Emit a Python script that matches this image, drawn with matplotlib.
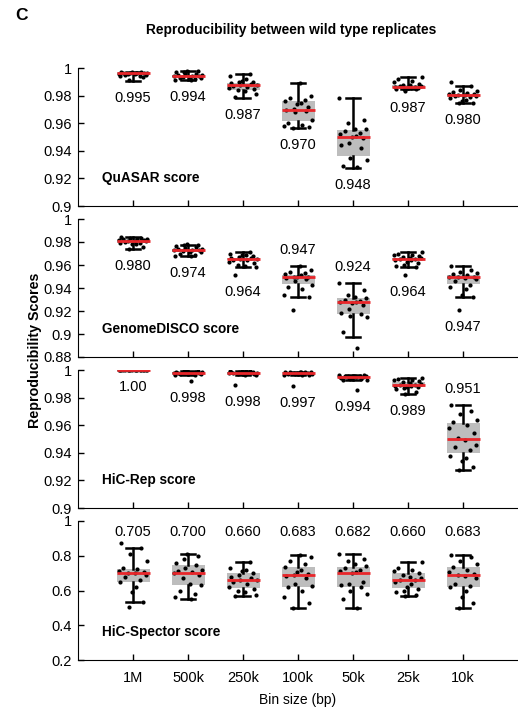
import numpy as np
import matplotlib
matplotlib.use("Agg")
import matplotlib.pyplot as plt

plt.rcParams['font.family'] = ['Liberation Sans', 'DejaVu Sans']

# ---- data ----
bins = ['1M', '500k', '250k', '100k', '50k', '25k', '10k']

# QuASAR
quasar_pts = [
    [0.9970, 0.9968, 0.9965, 0.9966, 0.9963, 0.9962, 0.9960, 0.9962, 0.9958, 0.9955, 0.9952, 0.9950, 0.9945, 0.9940, 0.9965, 0.9970, 0.9935, 0.9910],
    [0.9978, 0.9975, 0.9972, 0.9968, 0.9960, 0.9955, 0.9950, 0.9948, 0.9945, 0.9942, 0.9940, 0.9938, 0.9935, 0.9930, 0.9925, 0.9920, 0.9915, 0.9912],
    [0.9958, 0.9940, 0.9920, 0.9905, 0.9900, 0.9895, 0.9890, 0.9885, 0.9880, 0.9875, 0.9872, 0.9865, 0.9855, 0.9845, 0.9840, 0.9830, 0.9815, 0.9790],
    [0.9890, 0.9800, 0.9780, 0.9770, 0.9760, 0.9750, 0.9740, 0.9720, 0.9700, 0.9695, 0.9690, 0.9680, 0.9620, 0.9600, 0.9590, 0.9580, 0.9570, 0.9565],
    [0.9780, 0.9625, 0.9600, 0.9560, 0.9555, 0.9545, 0.9530, 0.9520, 0.9505, 0.9500, 0.9490, 0.9460, 0.9440, 0.9420, 0.9350, 0.9330, 0.9290, 0.9280],
    [0.9932, 0.9920, 0.9905, 0.9895, 0.9885, 0.9880, 0.9875, 0.9870, 0.9866, 0.9864, 0.9860, 0.9858, 0.9855, 0.9852, 0.9850, 0.9848, 0.9845, 0.9835],
    [0.9900, 0.9870, 0.9840, 0.9830, 0.9825, 0.9820, 0.9815, 0.9810, 0.9806, 0.9802, 0.9800, 0.9795, 0.9790, 0.9780, 0.9770, 0.9760, 0.9750, 0.9745],
]
quasar_med = [0.9962, 0.9942, 0.9875, 0.9696, 0.9502, 0.9865, 0.9804]
quasar_q1 = [0.9955, 0.9935, 0.9841, 0.9616, 0.9365, 0.9855, 0.9790]
quasar_q3 = [0.9968, 0.9950, 0.9894, 0.9758, 0.9550, 0.9880, 0.9815]
quasar_lo = [0.9908, 0.9912, 0.9780, 0.9563, 0.9278, 0.9845, 0.9744]
quasar_hi = [0.9970, 0.9978, 0.9954, 0.9890, 0.9780, 0.9932, 0.9870]
quasar_txt = ['0.995', '0.994', '0.987', '0.970', '0.948', '0.987', '0.980']

# GenomeDISCO
disco_pts = [
    [0.9840, 0.9838, 0.9835, 0.9830, 0.9828, 0.9825, 0.9820, 0.9815, 0.9812, 0.9810, 0.9805, 0.9800, 0.9795, 0.9790, 0.9785, 0.9780, 0.9760, 0.9740],
    [0.9780, 0.9775, 0.9770, 0.9765, 0.9760, 0.9745, 0.9740, 0.9735, 0.9734, 0.9732, 0.9730, 0.9720, 0.9715, 0.9710, 0.9700, 0.9690, 0.9680, 0.9675],
    [0.9710, 0.9700, 0.9690, 0.9685, 0.9680, 0.9670, 0.9665, 0.9660, 0.9655, 0.9650, 0.9645, 0.9640, 0.9630, 0.9620, 0.9600, 0.9590, 0.9580, 0.9515],
    [0.9590, 0.9560, 0.9540, 0.9530, 0.9520, 0.9510, 0.9500, 0.9495, 0.9492, 0.9490, 0.9480, 0.9460, 0.9430, 0.9410, 0.9390, 0.9340, 0.9320, 0.9205],
    [0.9446, 0.9380, 0.9340, 0.9320, 0.9310, 0.9300, 0.9290, 0.9280, 0.9276, 0.9270, 0.9250, 0.9220, 0.9180, 0.9170, 0.9160, 0.9150, 0.9020, 0.8876],
    [0.9710, 0.9700, 0.9690, 0.9685, 0.9680, 0.9670, 0.9665, 0.9660, 0.9655, 0.9650, 0.9645, 0.9640, 0.9630, 0.9620, 0.9600, 0.9590, 0.9580, 0.9515],
    [0.9590, 0.9560, 0.9540, 0.9530, 0.9520, 0.9510, 0.9500, 0.9495, 0.9492, 0.9490, 0.9480, 0.9460, 0.9430, 0.9410, 0.9390, 0.9340, 0.9320, 0.9205],
]
disco_med = [0.9811, 0.9733, 0.9652, 0.9493, 0.9276, 0.9652, 0.9493]
disco_q1 = [0.9790, 0.9710, 0.9640, 0.9432, 0.9177, 0.9640, 0.9432]
disco_q3 = [0.9825, 0.9740, 0.9665, 0.9513, 0.9316, 0.9665, 0.9513]
disco_lo = [0.9739, 0.9680, 0.9580, 0.9319, 0.8977, 0.9580, 0.9319]
disco_hi = [0.9840, 0.9770, 0.9710, 0.9591, 0.9446, 0.9710, 0.9591]
disco_txt = ['0.980', '0.974', '0.964', '0.947', '0.924', '0.964', '0.947']
disco_side = ['below', 'below', 'below', 'above', 'above', 'below', 'below']

# HiC-Rep
hicrep_pts = [
    [1.0000, 1.0000, 0.9999, 1.0000, 0.9999, 1.0000, 0.9998, 1.0000, 0.9999, 1.0000, 0.9999, 1.0000, 0.9998, 1.0000, 0.9999, 1.0000, 0.9999, 0.9998],
    [0.9995, 0.9993, 0.9990, 0.9988, 0.9986, 0.9985, 0.9983, 0.9980, 0.9979, 0.9978, 0.9977, 0.9976, 0.9975, 0.9972, 0.9968, 0.9965, 0.9962, 0.9918],
    [0.9996, 0.9994, 0.9992, 0.9990, 0.9988, 0.9986, 0.9984, 0.9981, 0.9979, 0.9978, 0.9977, 0.9976, 0.9975, 0.9972, 0.9970, 0.9966, 0.9963, 0.9894],
    [0.9988, 0.9986, 0.9985, 0.9984, 0.9983, 0.9982, 0.9980, 0.9979, 0.9978, 0.9977, 0.9975, 0.9972, 0.9970, 0.9968, 0.9966, 0.9964, 0.9962, 0.9882],
    [0.9967, 0.9964, 0.9960, 0.9958, 0.9956, 0.9955, 0.9953, 0.9951, 0.9950, 0.9948, 0.9946, 0.9943, 0.9940, 0.9938, 0.9934, 0.9930, 0.9925, 0.9857],
    [0.9942, 0.9935, 0.9930, 0.9925, 0.9918, 0.9912, 0.9905, 0.9898, 0.9892, 0.9888, 0.9885, 0.9882, 0.9878, 0.9875, 0.9870, 0.9860, 0.9840, 0.9824],
    [0.9744, 0.9700, 0.9680, 0.9640, 0.9620, 0.9600, 0.9580, 0.9540, 0.9510, 0.9490, 0.9460, 0.9440, 0.9420, 0.9380, 0.9360, 0.9340, 0.9300, 0.9273],
]
hicrep_med = [0.9999, 0.9978, 0.9978, 0.9978, 0.9949, 0.9889, 0.9498]
hicrep_q1 = [0.9997, 0.9975, 0.9975, 0.9970, 0.9940, 0.9877, 0.9401]
hicrep_q3 = [1.0000, 0.9985, 0.9986, 0.9982, 0.9955, 0.9913, 0.9616]
hicrep_lo = [0.9997, 0.9962, 0.9963, 0.9962, 0.9925, 0.9824, 0.9273]
hicrep_hi = [1.0000, 0.9995, 0.9996, 0.9988, 0.9967, 0.9942, 0.9744]
hicrep_txt = ['1.00', '0.998', '0.998', '0.997', '0.994', '0.989', '0.951']
hicrep_side = ['below'] * 6 + ['above']

# HiC-Spector
spector_pts = [
    [0.8716, 0.8430, 0.8100, 0.7700, 0.7300, 0.7250, 0.7150, 0.7050, 0.7000, 0.6980, 0.6900, 0.6800, 0.6600, 0.6500, 0.6200, 0.5900, 0.5356, 0.5030],
    [0.8083, 0.8000, 0.7800, 0.7600, 0.7480, 0.7300, 0.7200, 0.7100, 0.7050, 0.7000, 0.6900, 0.6700, 0.6400, 0.6300, 0.6000, 0.5800, 0.5600, 0.5510],
    [0.7660, 0.7300, 0.7200, 0.7100, 0.7000, 0.6900, 0.6800, 0.6700, 0.6620, 0.6590, 0.6500, 0.6400, 0.6200, 0.6100, 0.6000, 0.5900, 0.5750, 0.5684],
    [0.8043, 0.7900, 0.7700, 0.7500, 0.7350, 0.7200, 0.7050, 0.6950, 0.6880, 0.6860, 0.6700, 0.6400, 0.6250, 0.6200, 0.6000, 0.5600, 0.5300, 0.5010],
    [0.8100, 0.7800, 0.7700, 0.7500, 0.7400, 0.7300, 0.7200, 0.7100, 0.7050, 0.7000, 0.6500, 0.6400, 0.6300, 0.6200, 0.6000, 0.5800, 0.5500, 0.5000],
    [0.7660, 0.7300, 0.7200, 0.7100, 0.7000, 0.6900, 0.6800, 0.6700, 0.6620, 0.6590, 0.6500, 0.6400, 0.6200, 0.6100, 0.6000, 0.5900, 0.5750, 0.5684],
    [0.8043, 0.7900, 0.7700, 0.7500, 0.7350, 0.7200, 0.7050, 0.6950, 0.6880, 0.6860, 0.6700, 0.6400, 0.6250, 0.6200, 0.6000, 0.5600, 0.5300, 0.5010],
]
spector_med = [0.6990, 0.7027, 0.6604, 0.6873, 0.7027, 0.6604, 0.6873]
spector_q1 = [0.6507, 0.6317, 0.6127, 0.6220, 0.6184, 0.6127, 0.6220]
spector_q3 = [0.7255, 0.7485, 0.7025, 0.7335, 0.7370, 0.7025, 0.7335]
spector_lo = [0.5356, 0.5510, 0.5684, 0.5010, 0.5000, 0.5684, 0.5010]
spector_hi = [0.8430, 0.8083, 0.7660, 0.8043, 0.8100, 0.7660, 0.8043]
spector_txt = ['0.705', '0.700', '0.660', '0.683', '0.682', '0.660', '0.683']

# fixed horizontal jitter for the dots
jitter = np.array([-0.22, 0.15, -0.05, 0.25, -0.18, 0.08, -0.26, 0.20, -0.10,
                   0.03, 0.23, -0.14, 0.12, -0.24, 0.06, -0.02, 0.18, -0.08])

GRAY = '#bdbdbd'
RED = '#e8262a'
FS = 10.5

W, H = 518, 713
fig = plt.figure(figsize=(W / 100, H / 100), dpi=100)


def make_axes(top_px, bot_px):
    return fig.add_axes([78 / W, (H - bot_px) / H, 440 / W, (bot_px - top_px) / H])


def draw_panel(ax, pts, med, q1, q3, lo, hi, txt, side, ylim, yticks, name):
    x = np.arange(1, len(bins) + 1)
    stats = []
    for i in range(len(bins)):
        stats.append(dict(med=med[i], q1=q1[i], q3=q3[i], whislo=lo[i], whishi=hi[i], fliers=[]))
    ax.bxp(stats, positions=x, widths=0.6, patch_artist=True, showfliers=False,
           capwidths=0.25,
           boxprops=dict(facecolor=GRAY, edgecolor='none', linewidth=0),
           whiskerprops=dict(color='k', linewidth=1.8, zorder=3),
           capprops=dict(color='k', linewidth=1.8, zorder=3),
           medianprops=dict(color=RED, linewidth=2, zorder=5))
    for i in range(len(bins)):
        vals = np.array(pts[i])
        off = np.roll(jitter, i * 3)[:len(vals)]
        ax.plot(x[i] + off, vals, 'o', color='k', ms=3, mec='none', zorder=4)
        if side is None:
            ax.text(x[i], 0.92, txt[i], transform=ax.get_xaxis_transform(),
                    ha='center', va='center', fontsize=FS)
        elif side[i] == 'above':
            ytop = max(hi[i], vals.max())
            ax.annotate(txt[i], (x[i], ytop), xytext=(0, 16), textcoords='offset pixels',
                        ha='center', va='center', fontsize=FS)
        else:
            ybot = min(lo[i], vals.min())
            ax.annotate(txt[i], (x[i], ybot), xytext=(0, -17), textcoords='offset pixels',
                        ha='center', va='center', fontsize=FS)
    ax.set_xlim(0, 8)
    ax.set_ylim(*ylim)
    ax.set_yticks(yticks)
    ax.set_yticklabels(['%g' % round(t, 2) for t in yticks])
    ax.set_xticks(x)
    ax.set_xticklabels([])
    ax.spines['top'].set_visible(False)
    ax.spines['right'].set_visible(False)
    ax.tick_params(direction='in', length=4, width=1, labelsize=FS, pad=4.5)
    ax.text(0.055, 0.2, name, transform=ax.transAxes, fontsize=9.8, fontweight='bold',
            ha='left', va='center')


ax1 = make_axes(68, 206)
draw_panel(ax1, quasar_pts, quasar_med, quasar_q1, quasar_q3, quasar_lo, quasar_hi,
           quasar_txt, ['below'] * 7, (0.9, 1.0), np.arange(0.9, 1.001, 0.02), 'QuASAR score')

ax2 = make_axes(219, 357)
draw_panel(ax2, disco_pts, disco_med, disco_q1, disco_q3, disco_lo, disco_hi,
           disco_txt, disco_side, (0.88, 1.0), np.arange(0.88, 1.001, 0.02), 'GenomeDISCO score')

ax3 = make_axes(370, 508)
draw_panel(ax3, hicrep_pts, hicrep_med, hicrep_q1, hicrep_q3, hicrep_lo, hicrep_hi,
           hicrep_txt, hicrep_side, (0.9, 1.0), np.arange(0.9, 1.001, 0.02), 'HiC-Rep score')

ax4 = make_axes(521, 660)
draw_panel(ax4, spector_pts, spector_med, spector_q1, spector_q3, spector_lo, spector_hi,
           spector_txt, None, (0.2, 1.0), np.arange(0.2, 1.001, 0.2), 'HiC-Spector score')
ax4.set_xticklabels(bins)
ax4.tick_params(axis='x', pad=8)
ax4.set_xlabel('Bin size (bp)', fontsize=10, labelpad=6)

fig.text(21 / W, 1 - 16 / H, 'C', fontsize=12.5, fontweight='bold', ha='center', va='center')
fig.text(291 / W, 1 - 30 / H, 'Reproducibility between wild type replicates',
         fontsize=9.9, fontweight='bold', ha='center', va='center')
fig.text(35 / W, 1 - 350 / H, 'Reproducibility Scores', fontsize=10.3, fontweight='bold',
         rotation=90, ha='center', va='center')

fig.savefig('out.png', dpi=100)
